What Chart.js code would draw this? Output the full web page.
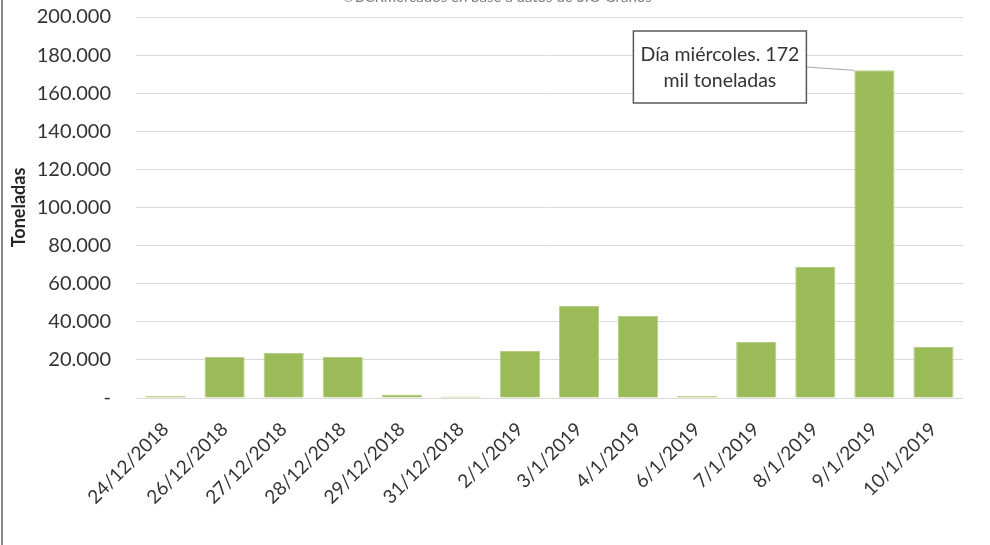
<!DOCTYPE html>
<html>
<head>
<meta charset="utf-8">
<script src="https://cdn.jsdelivr.net/npm/chart.js@4/dist/chart.umd.min.js"></script>
<style>
  html, body { margin: 0; padding: 0; background: #ffffff; }
  #wrap { width: 990px; height: 545px; position: relative; }
</style>
</head>
<body>
<div id="wrap"><canvas id="c" width="990" height="545"></canvas></div>
<script>
const categories = ["24/12/2018","26/12/2018","27/12/2018","28/12/2018","29/12/2018","31/12/2018","2/1/2019","3/1/2019","4/1/2019","6/1/2019","7/1/2019","8/1/2019","9/1/2019","10/1/2019"];
const toneladas = [1000, 21500, 23600, 21500, 1800, 800, 24700, 48300, 43000, 1100, 29400, 68800, 172000, 26800];
const yTicks = [0, 20000, 40000, 60000, 80000, 100000, 120000, 140000, 160000, 180000, 200000];
const yTitle = "Toneladas";
const sourceText = "©BCRmercados en base a datos de SIO Granos";
const noteLines = ["Día miércoles. 172", "mil toneladas"];
const noteIndex = 12;

const FONT = "Lato, 'Open Sans', sans-serif";

function fmt(v) {
  if (v === 0) return "-";
  return String(v).replace(/\B(?=(\d{3})+(?!\d))/g, ".");
}

const decor = {
  id: "decor",
  afterDraw(chart) {
    const ctx = chart.ctx;
    ctx.save();
    ctx.strokeStyle = "#8a8a8a";
    ctx.lineWidth = 2;
    ctx.beginPath();
    ctx.moveTo(2, 0);
    ctx.lineTo(2, 545);
    ctx.stroke();
    ctx.fillStyle = "#7f7f7f";
    ctx.font = "15px " + FONT;
    ctx.textAlign = "center";
    ctx.textBaseline = "alphabetic";
    ctx.fillText(sourceText, 497, 2);
    const ys = chart.scales.y;
    const meta = chart.getDatasetMeta(0).data[noteIndex];
    const barLeft = meta.x - meta.width / 2;
    const barTop = ys.getPixelForValue(toneladas[noteIndex]);
    const boxR = meta.x - 68, boxL = boxR - 173, boxT = 31, boxB = 103;
    ctx.strokeStyle = "#a6a6a6";
    ctx.lineWidth = 1;
    ctx.beginPath();
    ctx.moveTo(boxR, 67);
    ctx.lineTo(barLeft, barTop);
    ctx.stroke();
    ctx.fillStyle = "#ffffff";
    ctx.fillRect(boxL, boxT, boxR - boxL, boxB - boxT);
    ctx.strokeStyle = "#595959";
    ctx.lineWidth = 1.5;
    ctx.strokeRect(boxL, boxT, boxR - boxL, boxB - boxT);
    ctx.fillStyle = "#333333";
    ctx.font = "19.5px " + FONT;
    ctx.textAlign = "center";
    ctx.textBaseline = "middle";
    const cx = (boxL + boxR) / 2;
    ctx.fillText(noteLines[0], cx, 55);
    ctx.fillText(noteLines[1], cx, 81);
    ctx.restore();
  }
};

new Chart(document.getElementById("c"), {
  type: "bar",
  data: {
    labels: categories,
    datasets: [{
      data: toneladas,
      backgroundColor: "#9bbb59",
      borderColor: "#b5cf86",
      borderWidth: 1,
      barPercentage: 0.68,
      categoryPercentage: 1
    }]
  },
  options: {
    responsive: false,
    animation: false,
    layout: { padding: { top: 17, right: 27, bottom: 0, left: 0 } },
    plugins: { legend: { display: false }, tooltip: { enabled: false } },
    scales: {
      x: {
        grid: { display: false, drawTicks: false },
        border: { display: false },
        ticks: {
          color: "#333333",
          font: { family: FONT, size: 19 },
          maxRotation: 45, minRotation: 45,
          padding: 20,
          autoSkip: false
        },
        afterFit(s) { s.height = 147; }
      },
      y: {
        min: 0, max: 200000,
        afterBuildTicks(s) { s.ticks = yTicks.map(v => ({ value: v })); },
        grid: { color: "#d9d9d9", lineWidth: 1, drawTicks: true, tickLength: 24, tickColor: "rgba(0,0,0,0)" },
        border: { display: false },
        ticks: {
          color: "#333333",
          font: { family: FONT, size: 20 },
          padding: 1,
          callback: (v) => fmt(v)
        },
        title: {
          display: true,
          text: yTitle,
          color: "#262626",
          font: { family: FONT, size: 18, weight: "bold" },
          padding: { top: 8, bottom: 0 }
        },
        afterFit(s) { s.width = 136; }
      }
    }
  },
  plugins: [decor]
});
</script>
</body>
</html>
